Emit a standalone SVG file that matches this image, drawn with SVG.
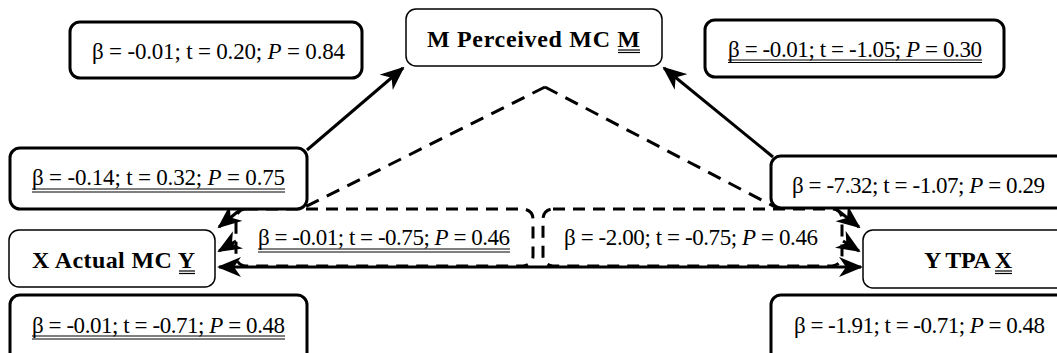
<svg xmlns="http://www.w3.org/2000/svg" width="1057" height="353" viewBox="0 0 1057 353">
<style>
.lab{fill:#fff;stroke:#000;stroke-width:3}
.node{fill:#fff;stroke:#000;stroke-width:1.5}
.dbox{fill:none;stroke:#000;stroke-width:3;stroke-dasharray:12 8}
.t{font-family:"Liberation Serif",serif;font-size:23px;fill:#000}
.b{font-weight:bold;font-size:24px}
.u{stroke:#000;stroke-width:1.2}
.sol{fill:none;stroke:#000;stroke-width:3}
.dash{fill:none;stroke:#000;stroke-width:3;stroke-dasharray:14 9}
</style>
<defs>
<marker id="ah" viewBox="0 0 12 10" refX="11" refY="5" markerWidth="8" markerHeight="7" orient="auto-start-reverse" markerUnits="strokeWidth">
<path d="M0,0 L12,5 L0,10 L3.5,5 Z" fill="#000"/>
</marker>
</defs>
<rect width="1057" height="353" fill="#fff"/>

<g id="connectors">
<path class="sol" d="M307,150 L403,68" marker-end="url(#ah)"/>
<path class="sol" d="M773,157 L664,68" marker-end="url(#ah)"/>
<path class="dash" d="M545,87 L305,207"/>
<path class="dash" d="M545,87 L775,207"/>
<path class="sol" d="M241,209 L219,227" marker-end="url(#ah)"/>
<path class="sol" d="M236,241 L219,251" marker-end="url(#ah)"/>
<path class="sol" d="M836,209 L859,227" marker-end="url(#ah)"/>
<path class="sol" d="M843,241 L859,251" marker-end="url(#ah)"/>
<path class="sol" d="M219,267 L861,267" marker-start="url(#ah)" marker-end="url(#ah)"/>
</g>

<g id="mid-left">
<rect class="dbox" x="236" y="209" width="297" height="57" rx="10"/>
<text class="t" x="258" y="245" textLength="252">β = -0.01; t = -0.75; <tspan font-style="italic">P</tspan> = 0.46</text>
<line class="u" x1="258" y1="249" x2="510" y2="249"/><line class="u" x1="258" y1="252" x2="510" y2="252"/>
</g>
<g id="mid-right">
<rect class="dbox" x="543" y="209" width="299" height="57" rx="10"/>
<text class="t" x="564" y="245" textLength="254">β = -2.00; t = -0.75; <tspan font-style="italic">P</tspan> = 0.46</text>
</g>

<g id="label-tl">
<rect class="lab" x="70" y="22" width="292" height="56" rx="10"/>
<text class="t" x="92" y="59" textLength="253">β = -0.01; t = 0.20; <tspan font-style="italic">P</tspan> = 0.84</text>
</g>
<g id="node-m">
<rect class="node" x="406" y="9" width="256" height="57" rx="10"/>
<text class="t b" x="427" y="47" textLength="213">M Perceived MC M</text>
<line class="u" x1="618" y1="50" x2="640" y2="50"/><line class="u" x1="618" y1="52.5" x2="640" y2="52.5"/>
</g>
<g id="label-tr">
<rect class="lab" x="705" y="20" width="299" height="57" rx="10"/>
<text class="t" x="728" y="57" textLength="254">β = -0.01; t = -1.05; <tspan font-style="italic">P</tspan> = 0.30</text>
<line class="u" x1="728" y1="60" x2="982" y2="60"/><line class="u" x1="728" y1="62.5" x2="982" y2="62.5"/>
</g>
<g id="label-lm">
<rect class="lab" x="10" y="148" width="297" height="61" rx="10"/>
<text class="t" x="32" y="185" textLength="253">β = -0.14; t = 0.32; <tspan font-style="italic">P</tspan> = 0.75</text>
<line class="u" x1="32" y1="189" x2="285" y2="189"/><line class="u" x1="32" y1="192" x2="285" y2="192"/>
</g>
<g id="node-x">
<rect class="node" x="9" y="230" width="206" height="57" rx="10"/>
<text class="t b" x="32" y="268" textLength="163">X Actual MC Y</text>
<line class="u" x1="179" y1="271" x2="195" y2="271"/><line class="u" x1="179" y1="273.5" x2="195" y2="273.5"/>
</g>
<g id="label-bl">
<rect class="lab" x="10" y="295" width="297" height="70" rx="10"/>
<text class="t" x="32" y="333" textLength="253">β = -0.01; t = -0.71; <tspan font-style="italic">P</tspan> = 0.48</text>
<line class="u" x1="32" y1="336" x2="285" y2="336"/><line class="u" x1="32" y1="339" x2="285" y2="339"/>
</g>
<g id="label-rm">
<rect class="lab" x="771" y="156" width="300" height="52" rx="10"/>
<text class="t" x="792" y="193" textLength="253">β = -7.32; t = -1.07; <tspan font-style="italic">P</tspan> = 0.29</text>
</g>
<g id="node-y">
<rect class="node" x="863" y="230" width="210" height="58" rx="10"/>
<text class="t b" x="924" y="268" textLength="88">Y TPA X</text>
<line class="u" x1="995" y1="271" x2="1012" y2="271"/><line class="u" x1="995" y1="273.5" x2="1012" y2="273.5"/>
</g>
<g id="label-br">
<rect class="lab" x="771" y="295" width="300" height="70" rx="10"/>
<text class="t" x="794" y="333" textLength="251">β = -1.91; t = -0.71; <tspan font-style="italic">P</tspan> = 0.48</text>
</g>
</svg>
